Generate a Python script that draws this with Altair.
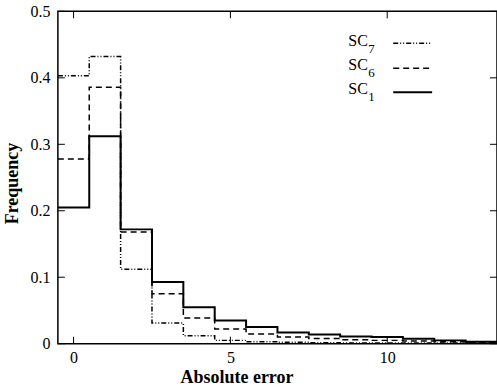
import altair as alt
import pandas as pd

# ---- data ----
bin_centers = list(range(14))
sc1 = [0.205, 0.312, 0.172, 0.093, 0.055, 0.035, 0.025, 0.017, 0.014, 0.011, 0.010, 0.0075, 0.005, 0.003]
sc6 = [0.278, 0.386, 0.168, 0.075, 0.0385, 0.022, 0.0145, 0.010, 0.008, 0.006, 0.005, 0.004, 0.003, 0.002]
sc7 = [0.403, 0.432, 0.112, 0.031, 0.012, 0.005, 0.003, 0.002, 0.0015, 0.001, 0.001, 0.001, 0.001, 0.001]
x_ticks = [0, 5, 10]
y_ticks = [0, 0.1, 0.2, 0.3, 0.4, 0.5]
legend_names = ["7", "6", "1"]

FONT = "Liberation Serif, Times New Roman, serif"
W, H = 440, 333

def steps(vals):
    xs = [c - 0.5 for c in bin_centers] + [bin_centers[-1] + 0.5]
    ys = vals + [vals[-1]]
    return pd.DataFrame({"x": xs, "y": ys})

xscale = alt.Scale(domain=[-0.5, 13.5], nice=False, zero=False)
yscale = alt.Scale(domain=[0, 0.5], nice=False)

xaxis = alt.Axis(values=x_ticks, ticks=False, domain=False, grid=False,
                 labelFont=FONT, labelFontSize=16, labelPadding=6,
                 labelColor="black", title="Absolute error",
                 titleFont=FONT, titleFontSize=18, titleFontWeight="bold",
                 titleColor="black", titleX=179, titleY=34,
                 titleBaseline="middle")
yaxis = alt.Axis(values=y_ticks, ticks=False, domain=False, grid=False,
                 format="~g", labelFont=FONT, labelFontSize=16,
                 labelPadding=8, labelColor="black", title="Frequency",
                 titleFont=FONT, titleFontSize=18, titleFontWeight="bold",
                 titleColor="black", titleX=-45, titleY=172,
                 titleAngle=-90, titleAlign="center",
                 titleBaseline="middle")

def line_layer(vals, dash, width):
    m = alt.Chart(steps(vals)).mark_line(interpolate="step-after", color="black",
                                          strokeWidth=width, clip=True,
                                          **({"strokeDash": dash} if dash else {}))
    return m.encode(x=alt.X("x:Q", scale=xscale, axis=xaxis),
                    y=alt.Y("y:Q", scale=yscale, axis=yaxis))

l1 = line_layer(sc1, None, 2)
l6 = line_layer(sc6, [6, 4], 1.5)
l7 = line_layer(sc7, [5, 2, 1, 2, 1, 2], 1.5)

# inward ticks
xt = pd.DataFrame({"x": x_ticks})
yt = pd.DataFrame({"y": y_ticks})
tick_len = 7
xt_bottom = alt.Chart(xt).mark_rule(color="black").encode(
    x=alt.X("x:Q", scale=xscale, axis=xaxis), y=alt.value(H), y2=alt.value(H - tick_len))
xt_top = alt.Chart(xt).mark_rule(color="black").encode(
    x=alt.X("x:Q", scale=xscale, axis=xaxis), y=alt.value(0), y2=alt.value(tick_len))
yt_left = alt.Chart(yt).mark_rule(color="black").encode(
    y=alt.Y("y:Q", scale=yscale, axis=yaxis), x=alt.value(0), x2=alt.value(tick_len))
yt_right = alt.Chart(yt).mark_rule(color="black").encode(
    y=alt.Y("y:Q", scale=yscale, axis=yaxis), x=alt.value(W - tick_len), x2=alt.value(W))

# legend
legend_layers = []
rows = [(35, 42, 32, [5, 2, 1, 2, 1, 2], 1.5),
        (59, 66, 57, [6, 4], 1.5),
        (83, 90, 81, None, 2)]
for name, (by, sy, ly, dash, w) in zip(legend_names, rows):
    legend_layers.append(alt.Chart(pd.DataFrame({"t": ["SC"]})).mark_text(
        font=FONT, fontSize=16, align="left", baseline="alphabetic", color="black"
    ).encode(text="t:N", x=alt.value(291), y=alt.value(by)))
    legend_layers.append(alt.Chart(pd.DataFrame({"t": [name]})).mark_text(
        font=FONT, fontSize=13, align="left", baseline="alphabetic", color="black"
    ).encode(text="t:N", x=alt.value(311), y=alt.value(sy)))
    legend_layers.append(alt.Chart(pd.DataFrame({"t": [name]})).mark_rule(
        color="black", strokeWidth=w, **({"strokeDash": dash} if dash else {})
    ).encode(x=alt.value(336), x2=alt.value(375), y=alt.value(ly)))

chart = alt.layer(l1, l6, l7, xt_bottom, xt_top, yt_left, yt_right, *legend_layers).properties(
    width=W, height=H,
    autosize=alt.AutoSizeParams(type="none"),
    padding={"left": 58, "top": 11, "right": 0, "bottom": 43},
    background="white",
).configure(
    font=FONT
).configure_view(stroke="black", strokeWidth=1.5)

chart.save("out.html", embed_options={"renderer": "svg", "actions": False})
